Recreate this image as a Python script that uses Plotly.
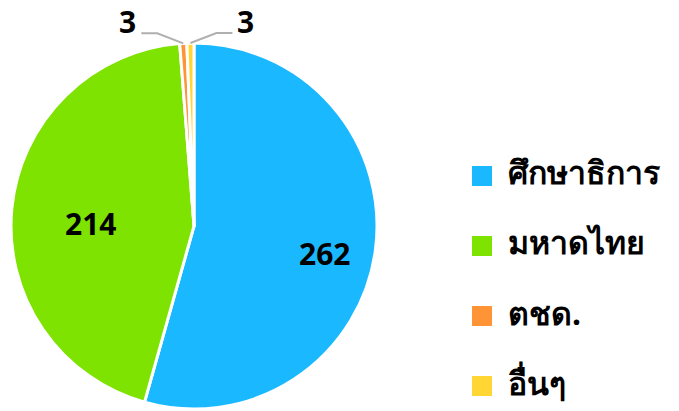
import numpy as np
import plotly.graph_objects as go

labels = ["ศึกษาธิการ", "มหาดไทย", "ตชด.", "อื่นๆ"]
values = [262, 214, 3, 3]
colors = ["#1ab8ff", "#7ee300", "#ff9436", "#ffd633"]

W, H = 679, 411
FONT = "Noto Sans, DejaVu Sans, sans-serif"

# pie box in pixels
cx, cy, r = 194, 226, 183
share = np.array(values) / sum(values)
small = share < 0.05

fig = go.Figure(go.Pie(
    labels=labels, values=values,
    sort=False, direction="clockwise", rotation=0,
    marker=dict(colors=colors, line=dict(color="white", width=3)),
    textinfo="none",
    domain=dict(x=[(cx - r) / W, (cx + r) / W],
                y=[(H - cy - r) / H, (H - cy + r) / H]),
    hoverinfo="label+value",
    showlegend=False,
))


def px(x, y):
    return x / W, 1 - y / H


ends = np.cumsum(share) * 2 * np.pi
mids = ends - share * np.pi

# value labels: inside for big slices, outside with elbow lines for thin ones
side = -1
for i, v in enumerate(values):
    a = mids[i]
    if not small[i]:
        tx, ty = px(cx + 0.72 * r * np.sin(a), cy - 0.72 * r * np.cos(a) + 10)
        fig.add_annotation(x=tx, y=ty, xref="paper", yref="paper",
                           text=str(v), showarrow=False,
                           font=dict(family=FONT, size=30, color="black", weight="bold"))
        continue
    ex, ey = cx + r * np.sin(a), cy - r * np.cos(a)
    kx, ky = ex + side * 26, ey - 10
    lx = kx + side * 16
    fig.add_shape(type="path", xref="paper", yref="paper",
                  path="M{},{} L{},{} L{},{}".format(*px(ex, ey), *px(kx, ky), *px(lx, ky)),
                  line=dict(color="#b0b0b0", width=2))
    tx, ty = px(lx + side * 3, ky - 12)
    fig.add_annotation(x=tx, y=ty, xref="paper", yref="paper",
                       text=str(v), showarrow=False,
                       xanchor="right" if side < 0 else "left", yanchor="middle",
                       font=dict(family=FONT, size=30, color="black", weight="bold"))
    side = -side

# legend
for i, (lab, col) in enumerate(zip(labels, colors)):
    yc = 176 + i * 70
    x0, y0 = px(472, yc - 10)
    x1, y1 = px(492, yc + 10)
    fig.add_shape(type="rect", xref="paper", yref="paper",
                  x0=x0, y0=y0, x1=x1, y1=y1,
                  fillcolor=col, line=dict(width=0))
    tx, ty = px(506, yc - 4)
    fig.add_annotation(x=tx, y=ty, xref="paper", yref="paper",
                       text=lab, showarrow=False, xanchor="left", yanchor="middle",
                       font=dict(family=FONT, size=32, color="black", weight="bold"))

fig.update_layout(
    width=W, height=H,
    margin=dict(l=0, r=0, t=0, b=0),
    paper_bgcolor="white", plot_bgcolor="white",
)

fig.write_html("out.html", config={"displayModeBar": False},
               post_script="document.body.style.margin='0px';")
